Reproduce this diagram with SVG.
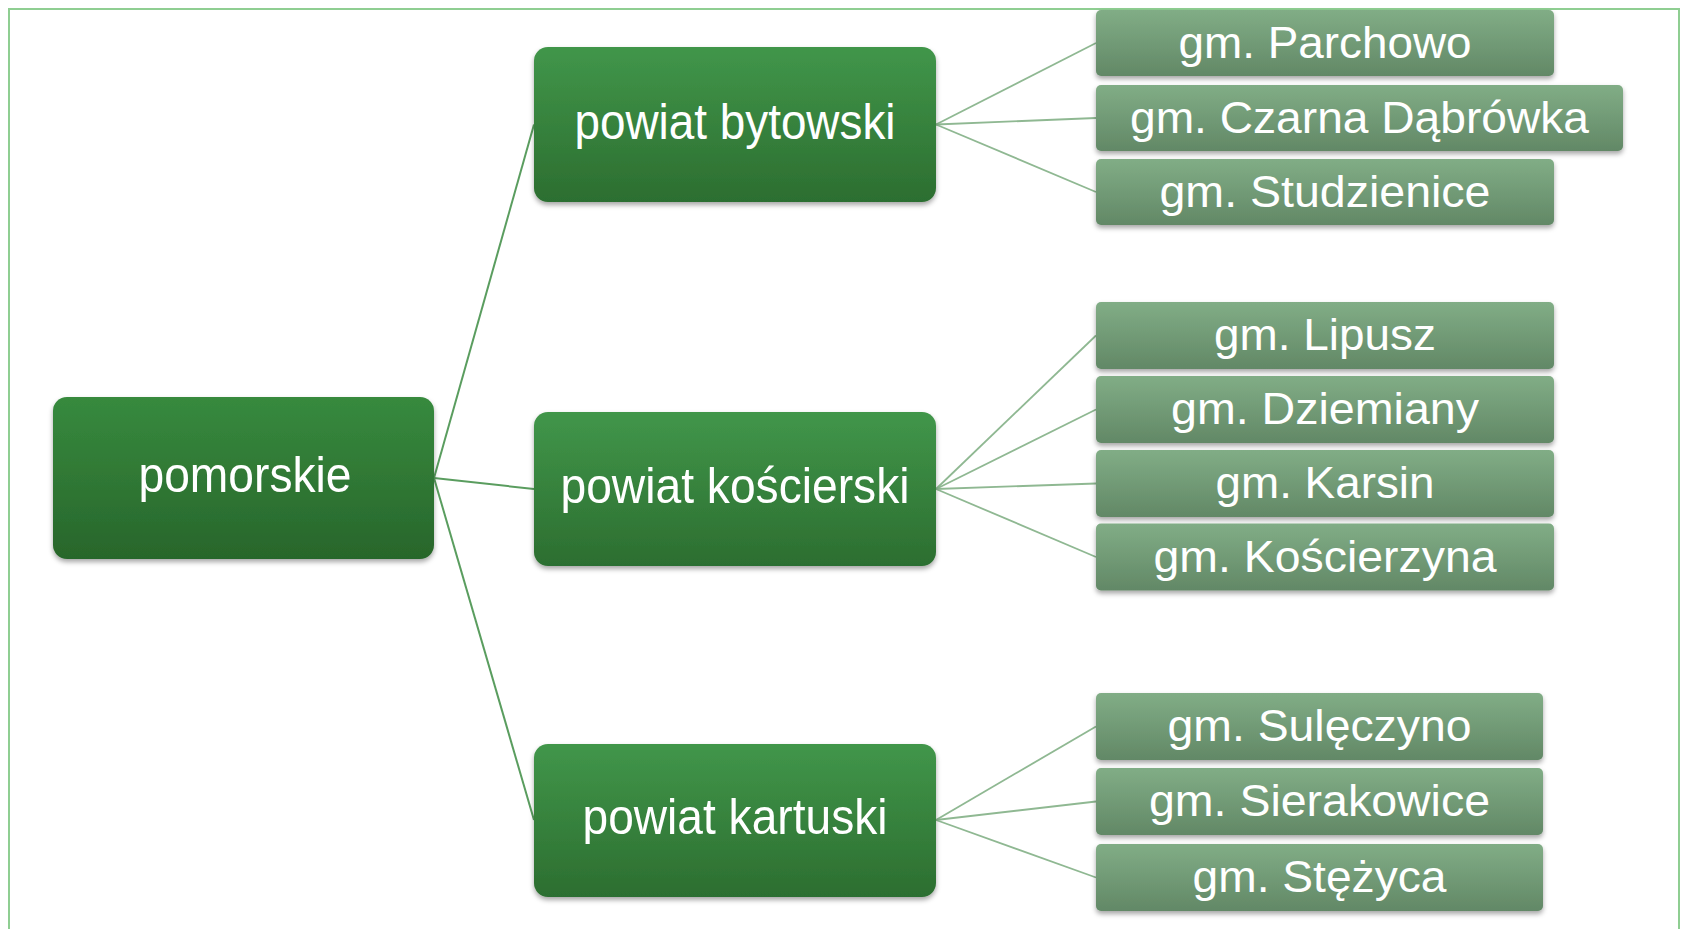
<svg xmlns="http://www.w3.org/2000/svg" width="1685" height="929" viewBox="0 0 1685 929">
<defs>
  <linearGradient id="gTop" x1="0" y1="0" x2="0" y2="1">
    <stop offset="0" stop-color="#378a3e"/>
    <stop offset="1" stop-color="#28662b"/>
  </linearGradient>
  <linearGradient id="gMid" x1="0" y1="0" x2="0" y2="1">
    <stop offset="0" stop-color="#41964a"/>
    <stop offset="1" stop-color="#2c6e30"/>
  </linearGradient>
  <linearGradient id="gLeaf" x1="0" y1="0" x2="0" y2="1">
    <stop offset="0" stop-color="#81ad86"/>
    <stop offset="1" stop-color="#628866"/>
  </linearGradient>
  <filter id="sh" x="-10%" y="-20%" width="120%" height="150%">
    <feDropShadow dx="0" dy="3" stdDeviation="2.5" flood-color="#000" flood-opacity="0.35"/>
  </filter>
</defs>
<style>
  .root{fill:url(#gTop);filter:url(#sh)}
  .mid{fill:url(#gMid);filter:url(#sh)}
  .leaf{fill:url(#gLeaf);filter:url(#sh)}
  .t1{font-family:"Liberation Sans",Arial,sans-serif;font-size:50px;fill:#fff;text-anchor:middle}
  .t2{font-family:"Liberation Sans",Arial,sans-serif;font-size:44px;fill:#fff;text-anchor:middle}
  .c1{stroke:#5a9d5f;stroke-width:2;fill:none}
  .c2{stroke:#8fb892;stroke-width:1.8;fill:none}
</style>
<rect x="9" y="9" width="1670" height="940" fill="#fff" stroke="#8fce92" stroke-width="2"/>
<g id="connectors">
  <line class="c1" x1="434" y1="478" x2="534" y2="124.5"/>
  <line class="c1" x1="434" y1="478" x2="534" y2="489"/>
  <line class="c1" x1="434" y1="478" x2="534" y2="820"/>
  <line class="c2" x1="936" y1="124.5" x2="1096" y2="43"/>
  <line class="c2" x1="936" y1="124.5" x2="1096" y2="118"/>
  <line class="c2" x1="936" y1="124.5" x2="1096" y2="192"/>
  <line class="c2" x1="936" y1="489" x2="1096" y2="335.5"/>
  <line class="c2" x1="936" y1="489" x2="1096" y2="409.5"/>
  <line class="c2" x1="936" y1="489" x2="1096" y2="483.5"/>
  <line class="c2" x1="936" y1="489" x2="1096" y2="557"/>
  <line class="c2" x1="936" y1="820" x2="1096" y2="726.5"/>
  <line class="c2" x1="936" y1="820" x2="1096" y2="801.5"/>
  <line class="c2" x1="936" y1="820" x2="1096" y2="877.5"/>
</g>
<g id="pomorskie">
  <rect class="root" x="53" y="397" width="381" height="162" rx="14"/>
  <text class="t1" x="245" y="492" textLength="213" lengthAdjust="spacingAndGlyphs">pomorskie</text>
</g>
<g id="powiat-bytowski">
  <rect class="mid" x="534" y="47" width="402" height="155" rx="14"/>
  <text class="t1" x="735" y="139" textLength="321" lengthAdjust="spacingAndGlyphs">powiat bytowski</text>
</g>
<g id="powiat-koscierski">
  <rect class="mid" x="534" y="412" width="402" height="154" rx="14"/>
  <text class="t1" x="735" y="503" textLength="349" lengthAdjust="spacingAndGlyphs">powiat kościerski</text>
</g>
<g id="powiat-kartuski">
  <rect class="mid" x="534" y="744" width="402" height="153" rx="14"/>
  <text class="t1" x="735" y="834" textLength="305" lengthAdjust="spacingAndGlyphs">powiat kartuski</text>
</g>
<g id="gm-parchowo">
  <rect class="leaf" x="1096" y="10" width="458" height="66" rx="5"/>
  <text class="t2" x="1325" y="58" textLength="293" lengthAdjust="spacingAndGlyphs">gm. Parchowo</text>
</g>
<g id="gm-czarna-dabrowka">
  <rect class="leaf" x="1096" y="85" width="527" height="66" rx="5"/>
  <text class="t2" x="1359.5" y="133" textLength="459" lengthAdjust="spacingAndGlyphs">gm. Czarna Dąbrówka</text>
</g>
<g id="gm-studzienice">
  <rect class="leaf" x="1096" y="159" width="458" height="66" rx="5"/>
  <text class="t2" x="1325" y="207" textLength="331" lengthAdjust="spacingAndGlyphs">gm. Studzienice</text>
</g>
<g id="gm-lipusz">
  <rect class="leaf" x="1096" y="302" width="458" height="67" rx="5"/>
  <text class="t2" x="1325" y="350" textLength="222" lengthAdjust="spacingAndGlyphs">gm. Lipusz</text>
</g>
<g id="gm-dziemiany">
  <rect class="leaf" x="1096" y="376" width="458" height="67" rx="5"/>
  <text class="t2" x="1325" y="424" textLength="308" lengthAdjust="spacingAndGlyphs">gm. Dziemiany</text>
</g>
<g id="gm-karsin">
  <rect class="leaf" x="1096" y="450" width="458" height="67" rx="5"/>
  <text class="t2" x="1325" y="498" textLength="219" lengthAdjust="spacingAndGlyphs">gm. Karsin</text>
</g>
<g id="gm-koscierzyna">
  <rect class="leaf" x="1096" y="523.5" width="458" height="67" rx="5"/>
  <text class="t2" x="1325" y="572" textLength="343" lengthAdjust="spacingAndGlyphs">gm. Kościerzyna</text>
</g>
<g id="gm-suleczyno">
  <rect class="leaf" x="1096" y="693" width="447" height="67" rx="5"/>
  <text class="t2" x="1319.5" y="741" textLength="304" lengthAdjust="spacingAndGlyphs">gm. Sulęczyno</text>
</g>
<g id="gm-sierakowice">
  <rect class="leaf" x="1096" y="768" width="447" height="67" rx="5"/>
  <text class="t2" x="1319.5" y="816" textLength="341" lengthAdjust="spacingAndGlyphs">gm. Sierakowice</text>
</g>
<g id="gm-stezyca">
  <rect class="leaf" x="1096" y="844" width="447" height="67" rx="5"/>
  <text class="t2" x="1319.5" y="892" textLength="254" lengthAdjust="spacingAndGlyphs">gm. Stężyca</text>
</g>
</svg>
